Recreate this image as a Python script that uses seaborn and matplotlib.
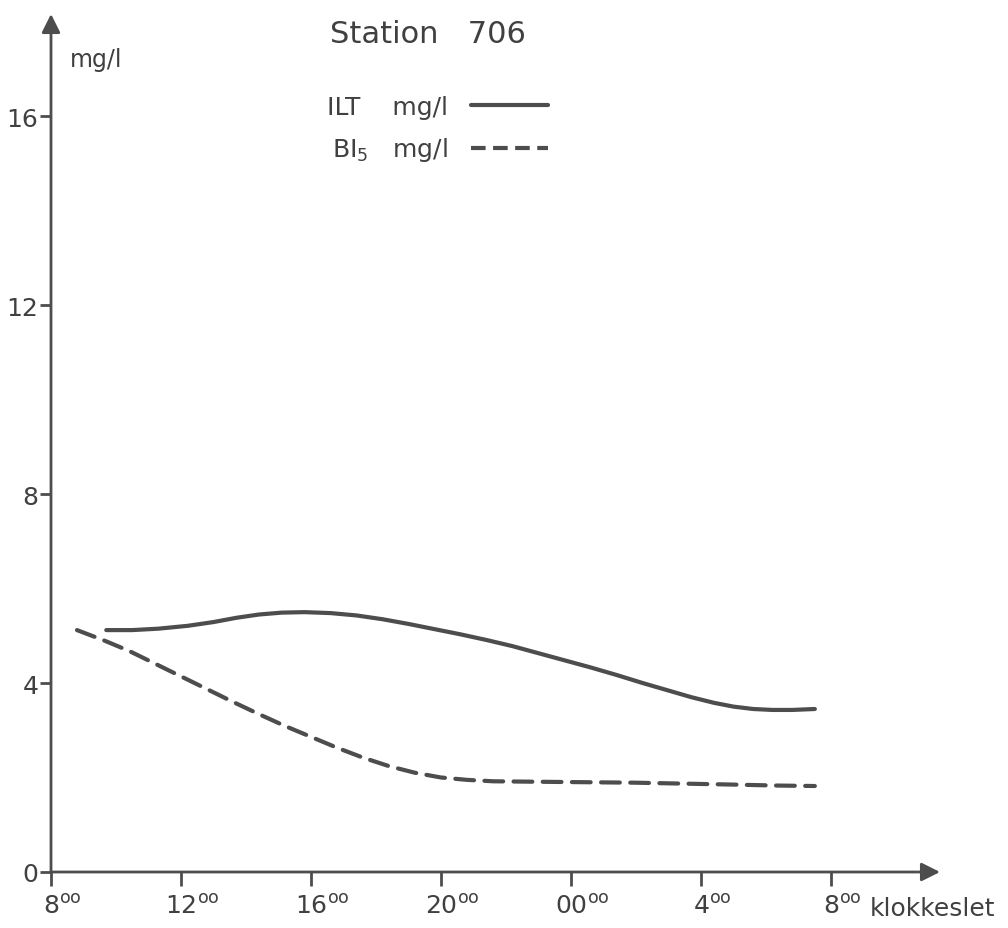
import matplotlib
matplotlib.use("Agg")
import matplotlib.pyplot as plt
import matplotlib.transforms as mtransforms
from matplotlib.lines import Line2D
import seaborn as sns

# hours after 08:00
ilt_hours = [1.7, 2.5, 3.3, 4.2, 5.0, 5.7, 6.4, 7.1, 7.8, 8.6, 9.4, 10.2, 11.0, 11.8, 12.6, 13.4,
             14.2, 15.0, 15.8, 16.6, 17.4, 18.2, 19.0, 19.7, 20.4, 21.0, 21.6, 22.2, 22.8, 23.5]
ilt_values = [5.12, 5.12, 5.15, 5.21, 5.29, 5.38, 5.45, 5.49, 5.50, 5.48, 5.43, 5.35, 5.25, 5.14, 5.03,
              4.91, 4.78, 4.63, 4.48, 4.33, 4.17, 4.00, 3.84, 3.70, 3.58, 3.50, 3.45, 3.43, 3.43, 3.45]

bi5_hours = [0.8, 1.6, 2.4, 3.2, 4.0, 4.8, 5.6, 6.4, 7.2, 8.0, 8.8, 9.6, 10.4, 11.2, 12.0, 12.8,
             13.6, 15.0, 16.5, 18.0, 19.5, 21.0, 22.3, 23.5]
bi5_values = [5.12, 4.91, 4.68, 4.41, 4.14, 3.87, 3.60, 3.34, 3.09, 2.86, 2.63, 2.42, 2.24, 2.10, 2.00, 1.95,
              1.92, 1.91, 1.90, 1.89, 1.87, 1.85, 1.83, 1.82]

tick_hours = [0, 4, 8, 12, 16, 20, 24]
tick_labels = ["8", "12", "16", "20", "00", "4", "8"]
y_ticks = [0, 4, 8, 12, 16]

ink = "#4d4d4d"
text_ink = "#404040"

sns.set_style("white")
plt.rcParams["font.family"] = ["DejaVu Sans"]
plt.rcParams["mathtext.default"] = "regular"

fig = plt.figure(figsize=(10.08, 9.29), dpi=100)
ax = fig.add_axes([51 / 1008, (929 - 873) / 929, (940 - 51) / 1008, (873 - 15) / 929])

sns.lineplot(x=ilt_hours, y=ilt_values, ax=ax, color=ink, lw=3, solid_capstyle="round",
             solid_joinstyle="round")
sns.lineplot(x=bi5_hours, y=bi5_values, ax=ax, color=ink, lw=3,
             linestyle=(0, (4.5, 2.5)), dash_capstyle="round")

ax.set_xlim(0, 27.35)
ax.set_ylim(0, 18.16)
for s in ax.spines.values():
    s.set_visible(False)

# axis lines with arrow heads
for tip in [(1, 0), (0, 1)]:
    ax.annotate("", xy=tip, xytext=(0, 0), xycoords="axes fraction",
                arrowprops=dict(arrowstyle="-|>", lw=2, color=ink, mutation_scale=28,
                                shrinkA=0, shrinkB=0))

ax.set_xticks(tick_hours)
ax.set_xticklabels([t + r"$^{oo}$" for t in tick_labels])
ax.set_yticks(y_ticks)
ax.set_yticklabels([str(v) for v in y_ticks])
ax.tick_params(axis="x", direction="out", length=10, width=2, color=ink,
               labelsize=18, labelcolor=text_ink, pad=6, bottom=True)
ax.tick_params(axis="y", direction="out", length=8, width=2, color=ink,
               labelsize=18, labelcolor=text_ink, pad=1, left=True)

# centre the number, not the superscript, under each tick
for lab, t in zip(ax.get_xticklabels(), tick_labels):
    lab.set_horizontalalignment("left")
    shift = mtransforms.ScaledTranslation(-len(t) * 5.7 / 72, 0, fig.dpi_scale_trans)
    lab.set_transform(lab.get_transform() + shift)

ax.annotate("klokkeslet", xy=(25.2, 0), xytext=(0, -17), textcoords="offset points",
            ha="left", va="top", fontsize=18, color=text_ink)
ax.text(0.58, 17.05, "mg/l", fontsize=17, color=text_ink, ha="left", va="baseline")

fig.text(330 / 1008, 1 - 43 / 929, "Station   706", fontsize=22, color=text_ink,
         ha="left", va="baseline")

handles = [Line2D([], [], color=ink, lw=3),
           Line2D([], [], color=ink, lw=3, linestyle=(0, (3.5, 1.8)))]
ax.legend(handles, ["ILT    mg/l", r"BI$_5$   mg/l"], markerfirst=False, frameon=False,
          loc="upper left", bbox_to_anchor=(327 / 1008, 1 - 96 / 929),
          bbox_transform=fig.transFigure, fontsize=18, labelcolor=text_ink,
          handlelength=3.1, handletextpad=0.9, labelspacing=0.65, borderpad=0,
          borderaxespad=0)

fig.savefig("out.png", dpi=100)
plt.close(fig)
